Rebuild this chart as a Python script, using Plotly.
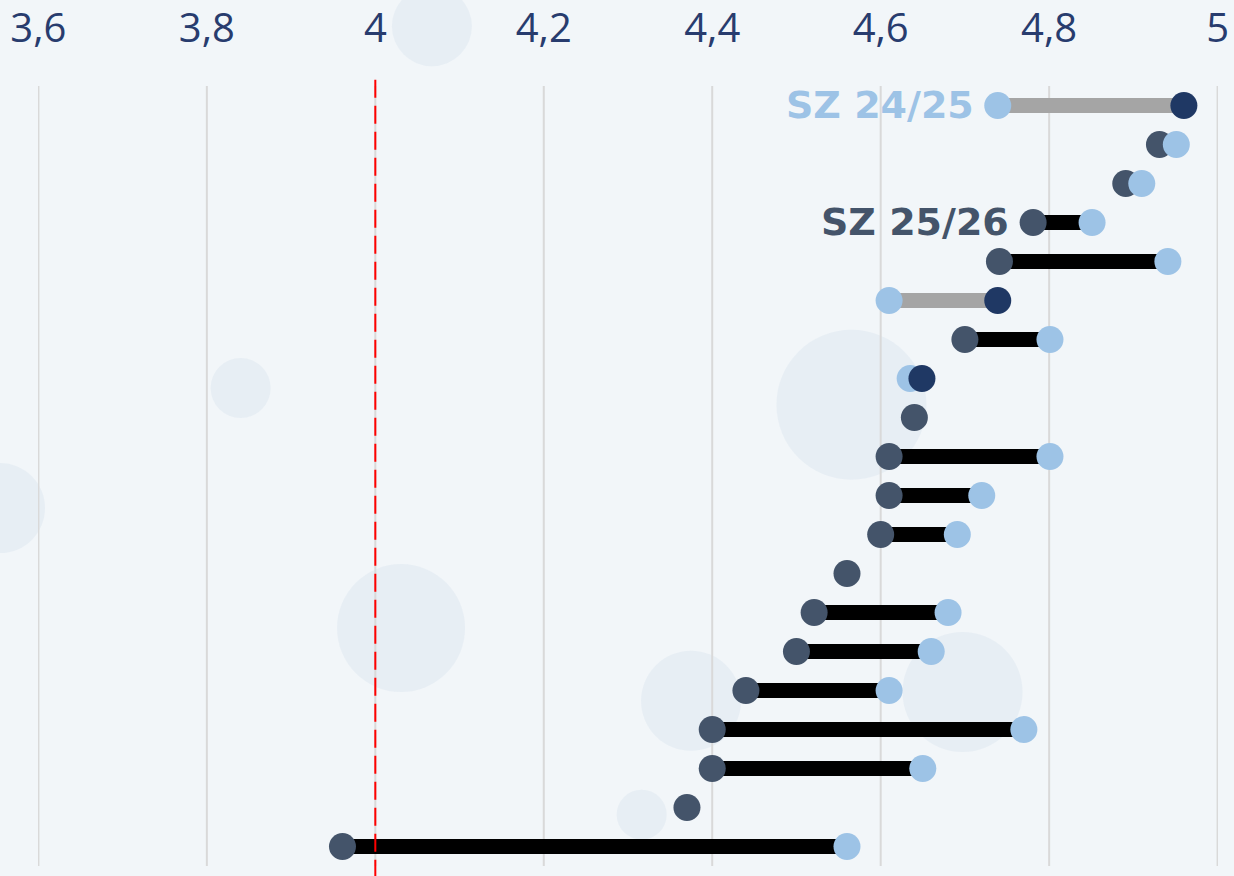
import plotly.graph_objects as go

# Data (rows from top to bottom)
rows = list(range(1, 21))
sz_2526 = [4.960, 4.931, 4.891, 4.781, 4.741, 4.739, 4.700, 4.649, 4.640, 4.610,
           4.610, 4.600, 4.560, 4.521, 4.500, 4.440, 4.400, 4.400, 4.370, 3.961]
sz_2425 = [4.739, 4.951, 4.910, 4.851, 4.941, 4.610, 4.801, 4.635, None, 4.801,
           4.720, 4.691, None, 4.680, 4.660, 4.610, 4.770, 4.650, None, 4.560]
tick_vals = [3.6, 3.8, 4.0, 4.2, 4.4, 4.6, 4.8, 5.0]
tick_text = ["3,6", "3,8", "4", "4,2", "4,4", "4,6", "4,8", "5"]
threshold = 4.0

C_LIGHT = "#9dc3e6"
C_SLATE = "#44546a"
C_NAVY = "#1f3864"
C_GREY = "#a5a5a5"

fig = go.Figure()

# connecting segments
bx, by, gx, gy = [], [], [], []
for r, a, b in zip(rows, sz_2526, sz_2425):
    if b is None:
        continue
    if a < b:
        bx += [a, b, None]; by += [r, r, None]
    else:
        gx += [a, b, None]; gy += [r, r, None]
fig.add_trace(go.Scatter(x=bx, y=by, mode="lines", line=dict(color="#000000", width=15),
                         hoverinfo="skip", showlegend=False))
fig.add_trace(go.Scatter(x=gx, y=gy, mode="lines", line=dict(color=C_GREY, width=15),
                         hoverinfo="skip", showlegend=False))

# slate (decrease) dots
sx = [a for a, b in zip(sz_2526, sz_2425) if b is None or a < b]
sy = [r for r, a, b in zip(rows, sz_2526, sz_2425) if b is None or a < b]
fig.add_trace(go.Scatter(x=sx, y=sy, mode="markers", name="SZ 25/26",
                         marker=dict(color=C_SLATE, size=27, line=dict(width=0)), showlegend=False))
# light dots
lx = [b for b in sz_2425 if b is not None]
ly = [r for r, b in zip(rows, sz_2425) if b is not None]
fig.add_trace(go.Scatter(x=lx, y=ly, mode="markers", name="SZ 24/25",
                         marker=dict(color=C_LIGHT, size=27, line=dict(width=0)), showlegend=False))
# navy (increase) dots
nx = [a for a, b in zip(sz_2526, sz_2425) if b is not None and a >= b]
ny = [r for r, a, b in zip(rows, sz_2526, sz_2425) if b is not None and a >= b]
fig.add_trace(go.Scatter(x=nx, y=ny, mode="markers", name="SZ 25/26 up",
                         marker=dict(color=C_NAVY, size=27, line=dict(width=0)), showlegend=False))

# labels
fig.add_annotation(x=sz_2425[0], y=rows[0], text="<b>SZ 24/25</b>", showarrow=False,
                   xanchor="right", yanchor="middle", xshift=-22, yshift=1,
                   font=dict(family="DejaVu Sans", size=38, color=C_LIGHT))
fig.add_annotation(x=sz_2526[3], y=rows[3], text="<b>SZ 25/26</b>", showarrow=False,
                   xanchor="right", yanchor="middle", xshift=-22, yshift=1,
                   font=dict(family="DejaVu Sans", size=38, color=C_SLATE))

# decorative background circles (paper coords)
deco = [(0.195, 0.557, 30), (0.325, 0.283, 64), (0.69, 0.538, 75), (0.0, 0.42, 45),
        (0.52, 0.07, 25), (0.56, 0.2, 50), (0.78, 0.21, 60), (0.35, 0.97, 40)]
for cx, cy, rr in deco:
    px = cx * 1234
    py = cy * 876
    fig.add_shape(type="circle", xref="paper", yref="paper", layer="below",
                  x0=(px - rr - 38) / 1180, x1=(px + rr - 38) / 1180,
                  y0=(py - rr - 10) / 780, y1=(py + rr - 10) / 780,
                  fillcolor="rgba(205,218,232,0.28)", line=dict(width=0))

# vertical gridlines at every tick (incl. range ends)
for tv in tick_vals:
    fig.add_shape(type="line", x0=tv, x1=tv, xref="x", yref="paper", y0=0, y1=1,
                  layer="below", line=dict(color="#d9d9d9", width=2))

# red dashed threshold line
fig.add_shape(type="line", x0=threshold, x1=threshold, xref="x", yref="paper",
              y0=-0.015, y1=1.012, line=dict(color="#ff0000", width=2, dash="18px,8px"))

fig.update_xaxes(range=[3.5995, 5.0005], side="top", tickvals=tick_vals, ticktext=tick_text,
                 showgrid=False, zeroline=False,
                 showline=False, ticks="", ticklabelstandoff=35, automargin=False,
                 tickfont=dict(family="Open Sans", size=40, color="#283c6e"))
fig.update_yaxes(range=[20.5, 0.5], showgrid=False, zeroline=False, showticklabels=False,
                 showline=False, automargin=False)
fig.update_layout(width=1234, height=876, margin=dict(l=38, r=16, t=86, b=10),
                  paper_bgcolor="#f2f6f9", plot_bgcolor="rgba(0,0,0,0)")

fig.write_html("out.html", config={"displayModeBar": False},
               post_script="document.body.style.margin='0';document.body.style.padding='0';"
                           "document.body.style.background='#f2f6f9';")
